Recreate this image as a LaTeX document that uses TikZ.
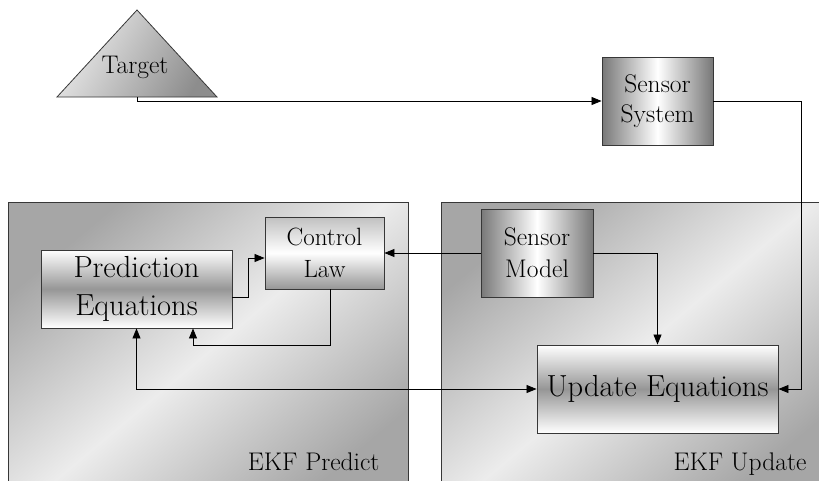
\documentclass[tikz,border=0pt]{standalone}
\usetikzlibrary{arrows.meta,calc}
\definecolor{pgray}{RGB}{166,166,166}
\definecolor{plight}{RGB}{236,236,236}
\definecolor{bgray}{RGB}{120,120,120}
\definecolor{mgray}{RGB}{150,150,150}
\definecolor{edgec}{RGB}{55,55,55}
\begin{document}
\begin{tikzpicture}[x=1pt,y=-1pt,
  box/.style={draw=edgec, line width=0.9pt, inner sep=0pt, align=center},
  hbox/.style={box, left color=bgray, right color=bgray, middle color=white},
  vbox/.style={box, top color=white, bottom color=white, middle color=mgray},
  cbox/.style={box, top color=pgray!70, bottom color=mgray, middle color=white},
  panel/.style={draw=edgec, line width=0.9pt, inner sep=0pt, shading=axis, top color=pgray, bottom color=pgray, middle color=plight, shading angle=40},
  conn/.style={line width=0.8pt, -{Triangle[length=10pt,width=8pt]}},
  bconn/.style={line width=0.8pt, {Triangle[length=10pt,width=8pt]}-{Triangle[length=10pt,width=8pt]}},
  txt/.style={font=\fontsize{25.5}{30}\selectfont},
  bigtxt/.style={font=\fontsize{30.5}{38}\selectfont}
]
\useasboundingbox (0,0) rectangle (819,480);
\clip (0,0) rectangle (819,480);
% panels
\node[panel, minimum width=400pt, minimum height=300pt] (predpanel) at (208,352) {};
\node[panel, minimum width=390pt, minimum height=300pt] (updpanel) at (636,352) {};
% target
\path[draw=edgec, line width=0.8pt, left color=plight, right color=pgray!85!black, shading angle=60] (57,97) -- (137,10) -- (217,97) -- cycle;
\coordinate (tgt) at (137,97);
\node[txt, anchor=base] (tgtlabel) at (135,73) {Target};
% boxes
\node[hbox, txt, minimum width=111pt, minimum height=88pt] (sensys) at (657.5,101) {Sensor\\System};
\node[vbox, bigtxt, minimum width=191pt, minimum height=78pt] (pred) at (136.5,289) {Prediction\\Equations};
\node[cbox, font=\fontsize{25}{32}\selectfont, minimum width=119pt, minimum height=72pt] (ctrl) at (324.5,253) {Control\\Law};
\node[hbox, font=\fontsize{25.5}{32}\selectfont, minimum width=112pt, minimum height=88pt] (senmod) at (537,253) {Sensor\\Model};
\node[vbox, bigtxt, minimum width=241pt, minimum height=88pt] (upd) at (657.5,389) {Update Equations};
% labels
\node[txt, anchor=base east] (predlabel) at (383,470) {EKF Predict};
\node[txt, anchor=base east] (updlabel) at (810,470) {EKF Update};
% connectors
\draw[conn] (tgt) |- (sensys.west);
\draw[conn] (sensys.east) -| ($(upd.east)+(23,0)$) -- (upd.east);
\draw[conn] (senmod.west) -- (senmod.west -| ctrl.east);
\draw[conn] (senmod.east) -| (upd.north);
\draw[conn] ($(pred.east)+(0,8)$) -- ++(16,0) |- ($(ctrl.west)+(0,5)$);
\draw[conn] ($(ctrl.south)+(5.5,0)$) -- ++(0,56) -| ($(pred.south)+(56.5,0)$);
\draw[bconn] (pred.south) |- (upd.west);
\end{tikzpicture}
\end{document}
